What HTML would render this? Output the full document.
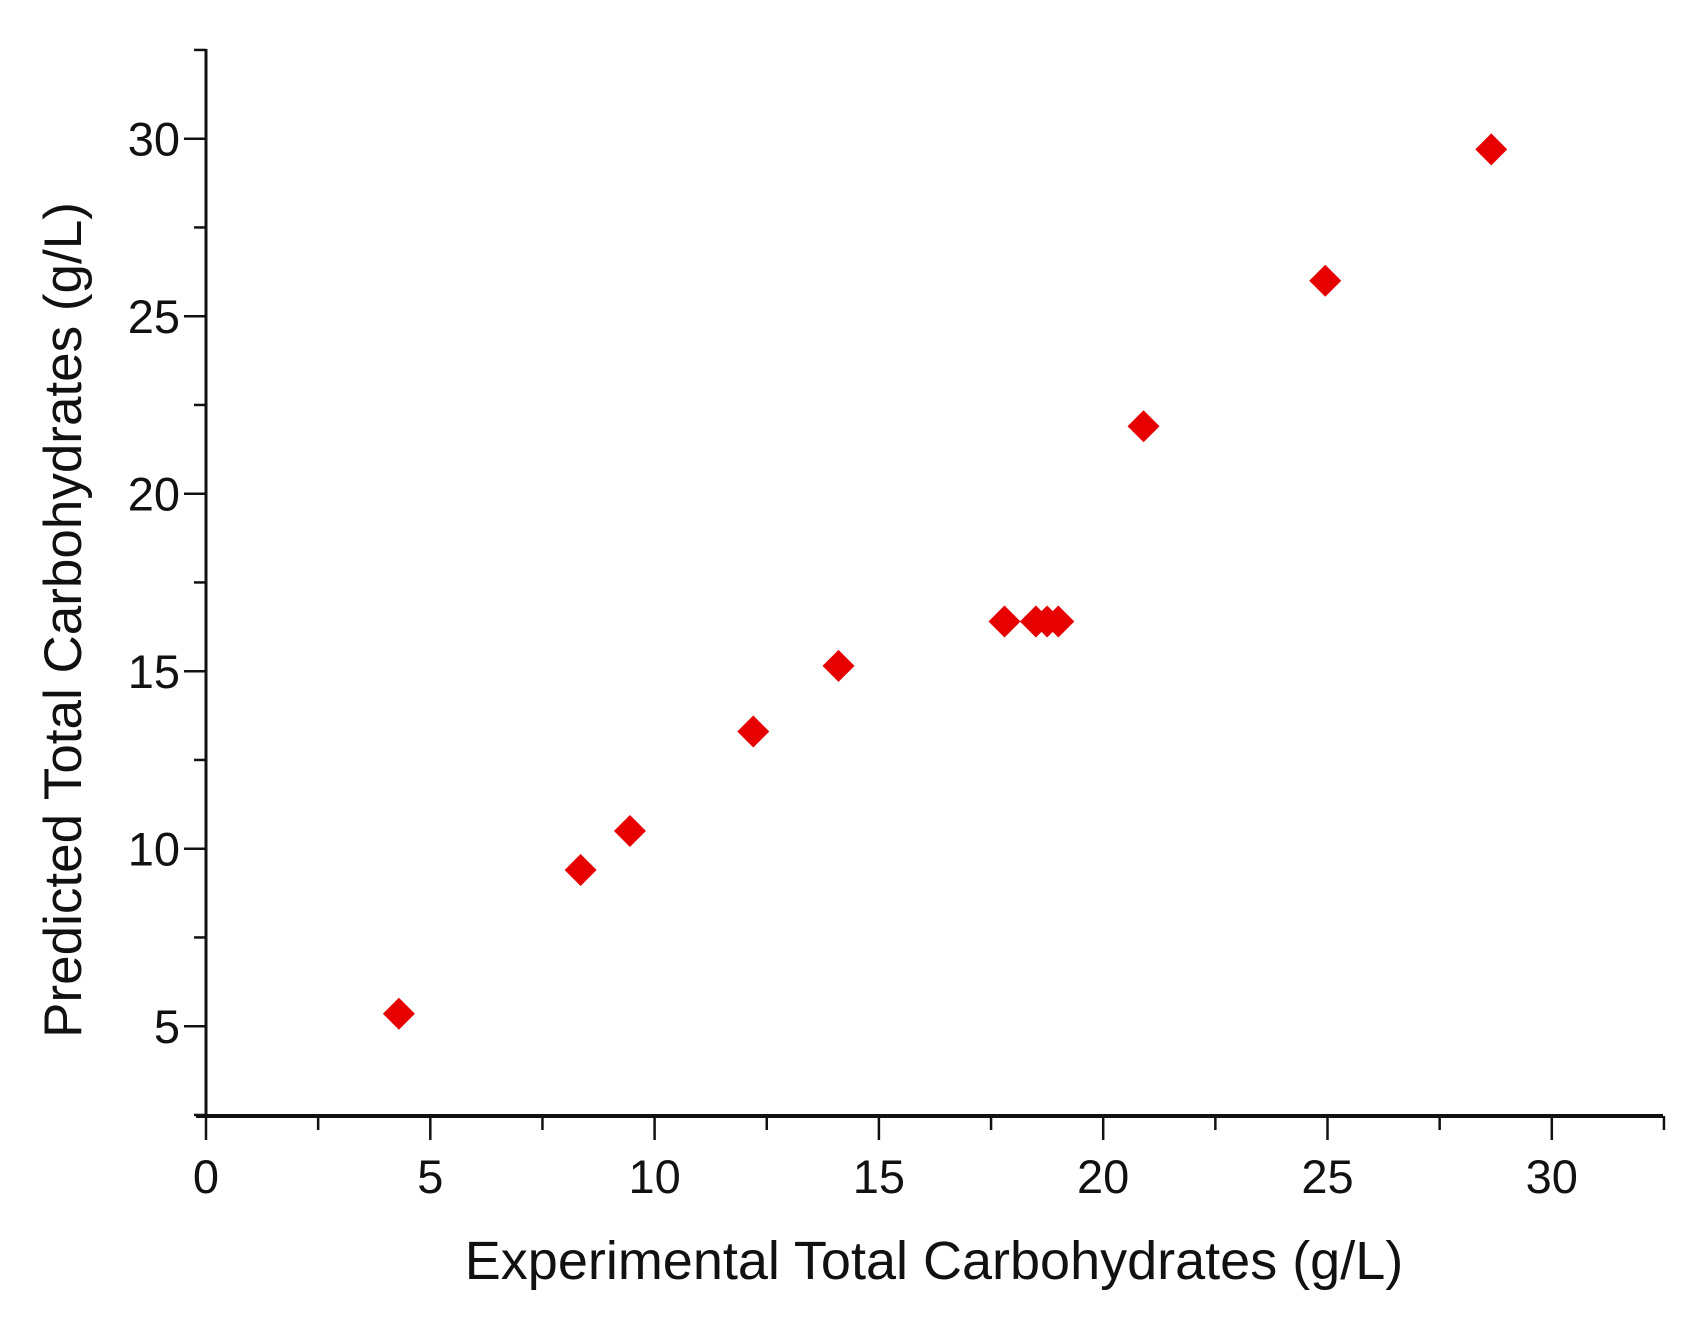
<!DOCTYPE html>
<html><head><meta charset="utf-8"><style>
html,body{margin:0;padding:0;background:#fff;}
svg{display:block;font-family:"Liberation Sans",Arial,sans-serif;}
</style></head><body>
<svg id="chart" width="1699" height="1325" viewBox="0 0 1699 1325">
<g id="axes"></g>
<g id="points"></g>
<text x="934" y="1279" font-size="54" text-anchor="middle" fill="#111">Experimental Total Carbohydrates (g/L)</text>
<text transform="translate(81,620) rotate(-90)" font-size="53" text-anchor="middle" fill="#111">Predicted Total Carbohydrates (g/L)</text>
</svg>
<script>
const xTicks = [0, 5, 10, 15, 20, 25, 30];
const yTicks = [5, 10, 15, 20, 25, 30];
const expValues = [4.3, 8.35, 9.45, 12.2, 14.1, 17.8, 18.5, 18.75, 19.0, 20.9, 24.95, 28.65];
const predValues = [5.35, 9.4, 10.5, 13.3, 15.15, 16.4, 16.4, 16.4, 16.4, 21.9, 26.0, 29.7];

const NS = "http://www.w3.org/2000/svg";
const X0 = 206, XU = 44.86;
const Y30 = 138.7, YU = 35.5;
function sx(v){ return X0 + v * XU; }
function sy(v){ return Y30 + (30 - v) * YU; }
const axisBottom = 1116, axisTop = 49, axisRight = 1663;

function mk(tag, attrs, parent){
  const e = document.createElementNS(NS, tag);
  for (const k in attrs) e.setAttribute(k, attrs[k]);
  parent.appendChild(e);
  return e;
}
const axes = document.getElementById('axes');
let e;
e = mk('line', {x1: X0, y1: axisTop, x2: X0, y2: axisBottom + 2, stroke: '#111', 'stroke-width': 3}, axes);


e = mk('line', {x1: X0 - 10, y1: axisBottom, x2: axisRight, y2: axisBottom, stroke: '#111', 'stroke-width': 4}, axes);



for (let v = 0; v <= 32.5; v += 2.5) {
  const major = Math.abs(v % 5) < 1e-9;
  e = mk('line', {x1: sx(v), y1: axisBottom, x2: sx(v), y2: axisBottom + (major ? 24 : 14), stroke: '#111', 'stroke-width': 2.5}, axes);
  
  
}
xTicks.forEach(v => {
  e = mk('text', {x: sx(v), y: 1193, 'font-size': 47, 'text-anchor': 'middle', fill: '#111'}, axes);
  e.textContent = String(v);
  
  
});
for (let v = 2.5; v <= 32.5; v += 2.5) {
  const major = Math.abs(v % 5) < 1e-9;
  e = mk('line', {x1: X0, y1: sy(v), x2: X0 - (major ? 22 : 12), y2: sy(v), stroke: '#111', 'stroke-width': 2.5}, axes);
  
  
}
yTicks.forEach(v => {
  e = mk('text', {x: 180, y: sy(v) + 17, 'font-size': 47, 'text-anchor': 'end', fill: '#111'}, axes);
  e.textContent = String(v);
  
  
});

const pts = document.getElementById('points');
const r = 16;
expValues.forEach((xv, i) => {
  const cx = sx(xv), cy = sy(predValues[i]);
  const p = mk('polygon', {points: `${cx},${cy - r} ${cx + r},${cy} ${cx},${cy + r} ${cx - r},${cy}`, fill: '#e60000'}, pts);
  
  
});
</script>
</body></html>
